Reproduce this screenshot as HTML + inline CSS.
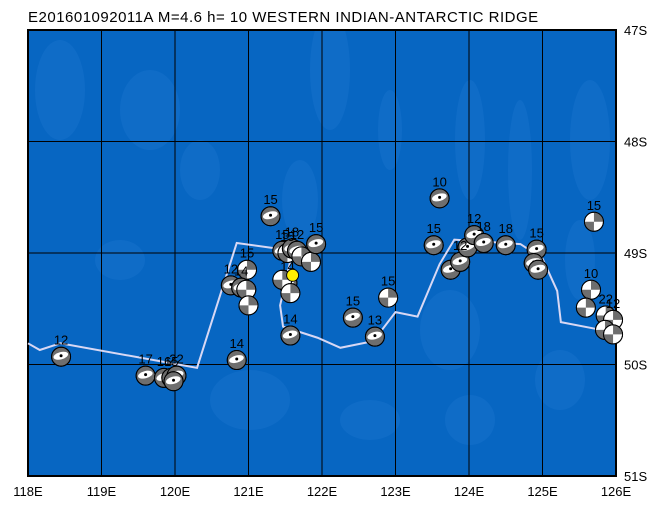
<!DOCTYPE html>
<html><head><meta charset="utf-8"><style>
body{margin:0;background:#fff;width:658px;height:505px;overflow:hidden;font-family:"Liberation Sans",sans-serif}
svg{display:block}
</style></head><body>
<svg id="map" width="658" height="505" xmlns="http://www.w3.org/2000/svg">
<defs><clipPath id="mapclip"><rect x="28" y="30" width="588" height="446"/></clipPath></defs>
<text x="28" y="22" font-family="Liberation Sans, sans-serif" font-size="15" fill="#000" letter-spacing="0.5">E201601092011A  M=4.6  h=  10  WESTERN  INDIAN-ANTARCTIC  RIDGE</text>
<g id="bg" clip-path="url(#mapclip)"></g><g id="grid"></g><g id="ridge"></g><g id="events"></g><g id="labels"></g>
</svg>
<script>
const lonTicks=[118,119,120,121,122,123,124,125,126];
const latTicks=[47,48,49,50,51];
const ridgeLon=[118,118.16,118.44,120.3,120.84,121.6,121.43,121.47,121.94,122.25,122.7,123.0,123.3,123.6,123.8,124.7,125.0,125.2,125.25,125.8,126];
const ridgeLat=[49.81,49.87,49.81,50.03,48.91,48.98,49.47,49.66,49.76,49.85,49.79,49.53,49.57,49.1,48.88,48.92,49.05,49.34,49.62,49.69,49.69];
const evLon=[118.45,119.6,119.85,119.95,120.02,119.98,120.84,121.3,120.98,120.76,120.9,120.97,121.0,121.46,121.53,121.59,121.66,121.72,121.85,121.92,121.53,121.46,121.57,121.57,122.42,122.72,122.9,123.6,123.52,123.75,123.88,123.98,124.07,124.2,124.5,124.92,124.88,124.94,125.7,125.66,125.59,125.86,125.96,125.85,125.96];
const evLat=[49.93,50.1,50.12,50.12,50.1,50.15,49.96,48.67,49.15,49.29,49.31,49.33,49.47,48.98,49.0,48.96,48.98,49.03,49.08,48.92,49.27,49.24,49.36,49.74,49.58,49.75,49.4,48.51,48.93,49.15,49.08,48.95,48.84,48.91,48.93,48.97,49.09,49.15,48.72,49.33,49.49,49.56,49.6,49.69,49.73];
const evLabel=["12","17","16","15","22","","14","15","15","12","14","","","15","15","18","12","","","15","14","","","14","15","13","15","10","15","","12","","12","18","18","15","","","15","10","","22","12","",""];
const evType=[0,0,0,0,0,0,0,0,1,0,0,1,1,0,1,0,0,1,1,0,0,1,1,0,0,0,1,0,0,0,0,0,0,0,0,0,0,0,1,1,1,1,1,1,1];
const starLon=121.6, starLat=49.2;
const X0=28,X1=616,Y0=30,Y1=476;
const xs=l=>X0+(l-118)/(126-118)*(X1-X0);
const ys=l=>Y0+(l-47)/(51-47)*(Y1-Y0);
const NS="http://www.w3.org/2000/svg";
function mk(tag,attrs,parent){const e=document.createElementNS(NS,tag);for(const k in attrs)e.setAttribute(k,attrs[k]);parent.appendChild(e);return e;}
const bg=document.getElementById('bg');
let r=mk('rect',{x:X0,y:Y0,width:X1-X0,height:Y1-Y0,fill:'#0766c2'},bg);


const blobs=[[60,90,25,50],[150,110,30,40],[330,70,20,60],[390,130,12,40],[470,140,15,60],[520,170,12,70],[590,140,20,60],[250,400,40,30],[450,330,30,40],[560,380,25,30],[300,200,18,40],[120,260,25,20],[200,170,20,30],[580,260,15,40],[370,420,30,20],[470,420,25,25]];
blobs.forEach(b=>{const e=mk('ellipse',{cx:b[0],cy:b[1],rx:b[2],ry:b[3],fill:'#1a74cf',opacity:0.45},bg);

});
const grid=document.getElementById('grid');
lonTicks.forEach(l=>{const ln=mk('line',{x1:xs(l),x2:xs(l),y1:Y0,y2:Y1,stroke:'#000','stroke-width':1},grid);


const t=mk('text',{x:xs(l),y:496,'text-anchor':'middle','font-size':13,fill:'#000'},grid);t.textContent=l+'E';

});
latTicks.forEach(l=>{const ln=mk('line',{x1:X0,x2:X1,y1:ys(l),y2:ys(l),stroke:'#000','stroke-width':1},grid);


const t=mk('text',{x:624,y:ys(l)+5,'font-size':13,fill:'#000'},grid);t.textContent=l+'S';

});
let fr=mk('rect',{x:X0,y:Y0,width:X1-X0,height:Y1-Y0,fill:'none',stroke:'#000','stroke-width':2},grid);


const rg=document.getElementById('ridge');
let pl=mk('polyline',{points:ridgeLon.map((l,i)=>xs(l)+','+ys(ridgeLat[i])).join(' '),fill:'none',stroke:'#d8d8f4','stroke-width':2},rg);


const ev=document.getElementById('events'),lb=document.getElementById('labels');
const R=9.5;
evLon.forEach((l,i)=>{const cx=xs(l),cy=ys(evLat[i]);
const g=mk('g',{},ev);


if(evType[i]===0){
mk('circle',{cx:cx,cy:cy,r:R,fill:'#6e6e6e',stroke:'#000','stroke-width':1},g);
mk('ellipse',{cx:cx,cy:cy-1,rx:R-2,ry:R*0.38,fill:'#fff',transform:`rotate(-15 ${cx} ${cy})`},g);
mk('circle',{cx:cx,cy:cy,r:R,fill:'none',stroke:'#000','stroke-width':1},g);
mk('circle',{cx:cx,cy:cy-1,r:1.5,fill:'#000'},g);
}else{
mk('circle',{cx:cx,cy:cy,r:R,fill:'#fff',stroke:'#000','stroke-width':1},g);
mk('path',{d:`M${cx},${cy} L${cx+R},${cy} A${R},${R} 0 0 0 ${cx},${cy-R}Z M${cx},${cy} L${cx-R},${cy} A${R},${R} 0 0 0 ${cx},${cy+R}Z`,fill:'#6e6e6e'},g);
mk('circle',{cx:cx,cy:cy,r:R,fill:'none',stroke:'#000','stroke-width':1},g);
}
if(evLabel[i]){const t=mk('text',{x:cx,y:cy-12,'text-anchor':'middle','font-size':13,fill:'#000'},lb);t.textContent=evLabel[i];

}
});
let st=mk('circle',{cx:xs(starLon),cy:ys(starLat),r:6,fill:'#ffee00',stroke:'#000','stroke-width':1},lb);


</script>
</body></html>
